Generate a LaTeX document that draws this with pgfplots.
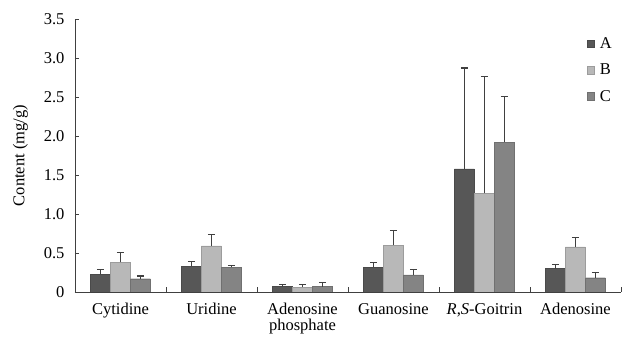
\documentclass[border=0pt]{standalone}
\usepackage{pgfplots}
\pgfplotsset{compat=1.18}
\usepackage{fontspec}
\setmainfont{Liberation Serif}
\definecolor{cA}{HTML}{575757}
\definecolor{cB}{HTML}{B8B8B8}
\definecolor{cC}{HTML}{848484}
\definecolor{axc}{HTML}{404040}
\begin{document}
\begin{tikzpicture}
\begin{axis}[
  scale only axis,
  width=546pt, height=273pt,
  xmin=-0.5, xmax=5.5,
  ymin=0, ymax=3.5,
  ybar=0pt, bar width=20pt,
  axis lines*=left,
  axis line style={axc, line width=0.8pt, -},
  xtick={0,1,2,3,4,5},
  xticklabels={Cytidine,Uridine,{Adenosine\\phosphate},Guanosine,{\textit{R},\textit{S}-Goitrin},Adenosine},
  xticklabel style={align=center, font=\fontsize{16.5}{16}\selectfont, yshift=-8pt},
  major x tick style={draw=none},
  minor xtick={-0.5,0.5,1.5,2.5,3.5,4.5,5.5},
  minor x tick style={axc, line width=0.8pt},
  minor tick length=5pt,
  ytick={0,0.5,1,1.5,2,2.5,3,3.5},
  yticklabels={0,0.5,1.0,1.5,2.0,2.5,3.0,3.5},
  yticklabel style={font=\fontsize{16.5}{18}\selectfont, xshift=-7pt},
  major y tick style={axc, line width=0.8pt},
  major tick length=4pt,
  tick align=inside,
  ylabel={Content (mg/g)},
  ylabel style={font=\fontsize{16.5}{18}\selectfont, yshift=9pt},
  legend style={draw=none, fill=none, at={(0.937,0.94)}, anchor=north west,
    font=\fontsize{16.5}{18}\selectfont, row sep=10pt, inner sep=0pt,
    nodes={inner xsep=5pt}},
  legend cell align=left,
  legend image code/.code={\fill[#1] (0pt,-3.8pt) rectangle (7.6pt,3.8pt);},
  error bars/y dir=plus, error bars/y explicit,
  error bars/error bar style={axc, line width=1.3pt},
  error bars/error mark options={rotate=90, mark size=3.5pt, line width=1.3pt, axc},
]
\addplot[fill=cA, draw=cA!85!black, line width=0.4pt] coordinates {
  (0,0.227) +- (0,0.063)
  (1,0.330) +- (0,0.060)
  (2,0.068) +- (0,0.026)
  (3,0.317) +- (0,0.063)
  (4,1.577) +- (0,1.293)
  (5,0.300) +- (0,0.055)
};
\addplot[fill=cB, draw=cB!85!black, line width=0.4pt] coordinates {
  (0,0.380) +- (0,0.130)
  (1,0.590) +- (0,0.145)
  (2,0.064) +- (0,0.030)
  (3,0.600) +- (0,0.190)
  (4,1.265) +- (0,1.495)
  (5,0.580) +- (0,0.120)
};
\addplot[fill=cC, draw=cC!85!black, line width=0.4pt] coordinates {
  (0,0.170) +- (0,0.035)
  (1,0.317) +- (0,0.020)
  (2,0.068) +- (0,0.052)
  (3,0.220) +- (0,0.070)
  (4,1.920) +- (0,0.590)
  (5,0.183) +- (0,0.064)
};
\legend{A,B,C}
\end{axis}
\pgfresetboundingbox
\useasboundingbox (-75pt,-45pt) rectangle (547pt,292pt);
\end{tikzpicture}
\end{document}
